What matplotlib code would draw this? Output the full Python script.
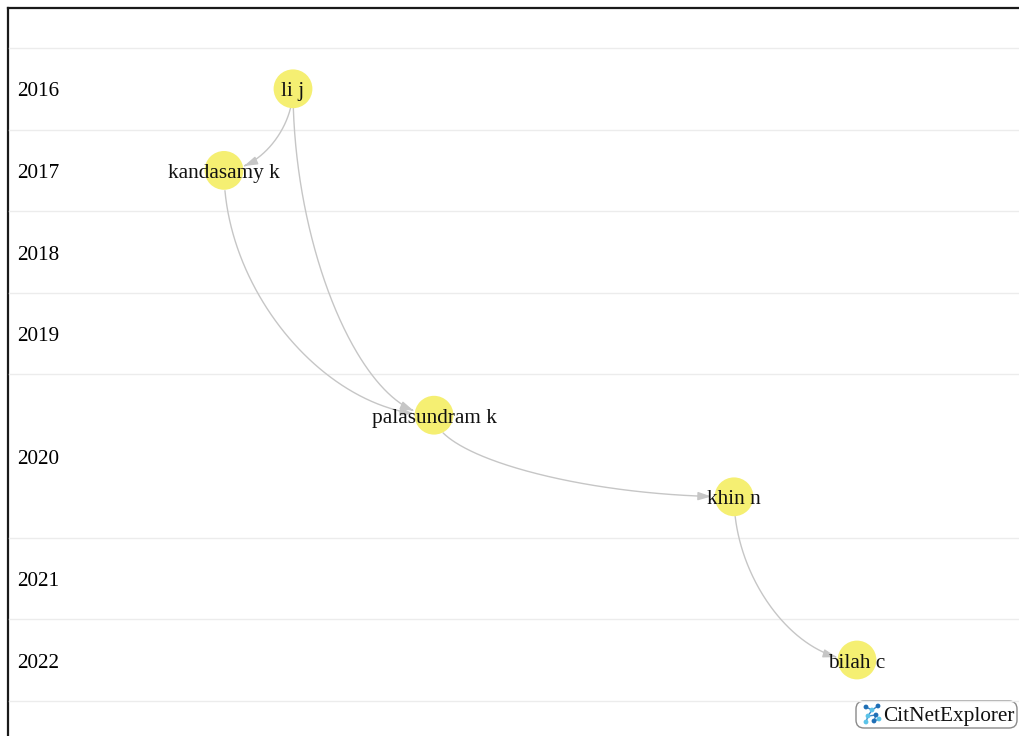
import matplotlib.pyplot as plt
from matplotlib.patches import FancyBboxPatch, FancyArrowPatch
from matplotlib.path import Path
from matplotlib.transforms import offset_copy, IdentityTransform
import numpy as np

# citation network (CitNetExplorer style)
years = [2016, 2017, 2018, 2019, 2020, 2021, 2022]
rows_per_year = [1, 1, 1, 1, 2, 1, 1]

node_names = ['li j', 'kandasamy k', 'palasundram k', 'khin n', 'bilah c']
node_years = [2016, 2017, 2020, 2020, 2022]
node_subrow = [0, 0, 0, 1, 0]
node_x = [293, 224, 434, 734, 857]   # horizontal layout position

edges = [('li j', 'kandasamy k'),
         ('li j', 'palasundram k'),
         ('kandasamy k', 'palasundram k'),
         ('palasundram k', 'khin n'),
         ('khin n', 'bilah c')]

W, H = 1019, 736
TOP, ROW_H = 48, 81.6
NODE_R = 19.5  # px

fig = plt.figure(figsize=(W / 100, H / 100), dpi=100)
fig.patch.set_facecolor('white')

# pixel overlay axes for frame and logo
px = fig.add_axes([0, 0, 1, 1])
px.set_xlim(0, W)
px.set_ylim(H, 0)
px.axis('off')

ax = fig.add_axes([0, 0, 1, 1])
ax.set_xlim(0, W)
ax.set_ylim((H - TOP) / ROW_H, -TOP / ROW_H)
ax.axis('off')
ax.patch.set_alpha(0)

serif = 'Liberation Serif'
fs = 15.3
text_tr = offset_copy(ax.transData, fig=fig, x=0, y=-2.3, units='points')

# year bands
row_start = np.concatenate([[0], np.cumsum(rows_per_year)])
for edge in row_start:
    ax.plot([9, W], [edge, edge], color='#ececec', lw=1, zorder=1)
for i, yr in enumerate(years):
    yc = (row_start[i] + row_start[i + 1]) / 2
    ax.text(17, yc, str(yr), fontsize=fs, family=serif, ha='left',
            va='center', color='black', transform=text_tr)

# node positions
ny = []
for yr, sr in zip(node_years, node_subrow):
    i = years.index(yr)
    ny.append(row_start[i] + sr + 0.5)
pos = {n: (x, y) for n, x, y in zip(node_names, node_x, ny)}

# edges: cubic curves leaving vertically, arriving horizontally
t = np.linspace(0, 1, 200)[:, None]
for s, tg in edges:
    p0 = ax.transData.transform(pos[s])
    p3 = ax.transData.transform(pos[tg])
    c1 = np.array([p0[0], (p0[1] + p3[1]) / 2])
    c2 = np.array([(p0[0] + p3[0]) / 2, p3[1]])
    pts = ((1 - t) ** 3 * p0 + 3 * (1 - t) ** 2 * t * c1
           + 3 * (1 - t) * t ** 2 * c2 + t ** 3 * p3)
    keep = (np.hypot(*(pts - p0).T) > NODE_R) & (np.hypot(*(pts - p3).T) > NODE_R + 1)
    pts = pts[keep]
    arr = FancyArrowPatch(path=Path(pts),
                          arrowstyle='-|>,head_length=0.8,head_width=0.25',
                          mutation_scale=10,
                          color='#c6c6c6', lw=1.0, transform=IdentityTransform(),
                          zorder=2)
    ax.add_artist(arr)

ax.scatter(node_x, ny, s=780, color='#f5ef72', edgecolors='none', zorder=3)
for n, x, y in zip(node_names, node_x, ny):
    ax.text(x, y, n, fontsize=fs, family=serif, ha='center', va='center',
            color='#111111', zorder=4, transform=text_tr)

# frame (left and top border)
px.plot([8, 8], [H, 8], color='#1a1a1a', lw=1.6, solid_capstyle='projecting')
px.plot([8, W], [8, 8], color='#1a1a1a', lw=1.6, solid_capstyle='projecting')

# CitNetExplorer logo
box = FancyBboxPatch((856, 701), 161, 27, boxstyle='round,pad=0,rounding_size=8',
                     fc='white', ec='#8a8a8a', lw=1.0, zorder=5)
px.add_patch(box)
px.text(883, 716, 'CitNetExplorer', fontsize=fs, family=serif, ha='left',
        va='center', color='#111111', zorder=6)
icon_x = [866, 872, 878, 868, 876, 866, 874, 879]
icon_y = [707, 710, 706, 716, 715, 722, 721, 719]
px.plot([866, 872, 878], [707, 710, 706], color='#3a86c8', lw=1.0, zorder=6)
px.plot([868, 876, 874, 879], [716, 715, 721, 719], color='#3a86c8', lw=1.0, zorder=6)
px.plot([866, 868, 872], [722, 716, 710], color='#3a86c8', lw=1.0, zorder=6)
px.scatter(icon_x, icon_y, s=6, color=['#1f6fb5', '#5bc3e8'] * 4, zorder=7)

fig.savefig('out.png', dpi=100)
